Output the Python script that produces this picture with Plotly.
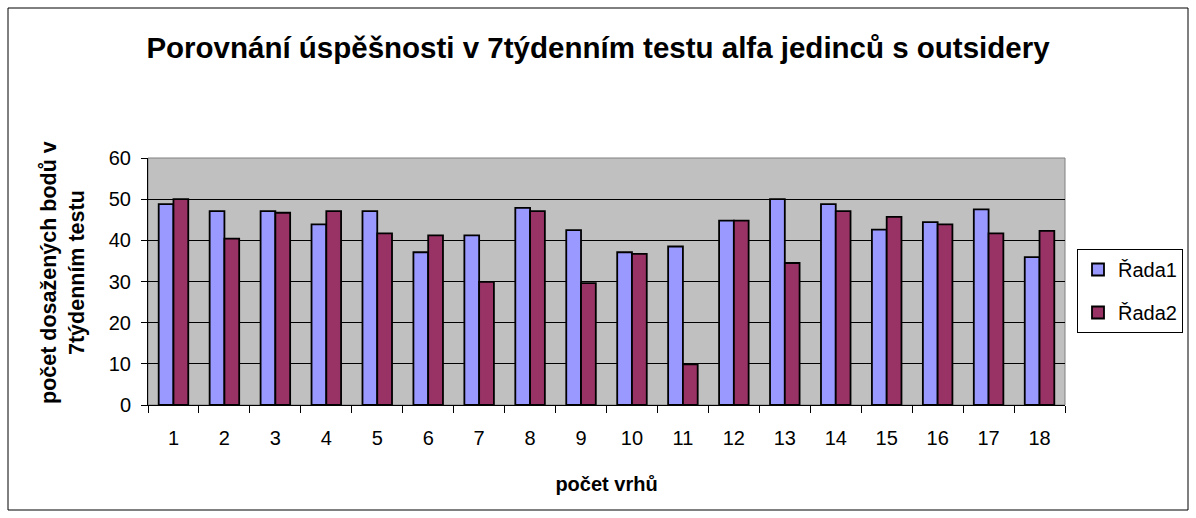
import plotly.graph_objects as go

categories = [str(i) for i in range(1, 19)]
rada1 = [48.8, 47.1, 47.1, 43.9, 47.1, 37.1, 41.2, 47.9, 42.5, 37.1, 38.5, 44.8, 50.0, 48.8, 42.6, 44.4, 47.5, 35.9]
rada2 = [50.0, 40.4, 46.7, 47.1, 41.7, 41.2, 29.9, 47.1, 29.6, 36.7, 9.9, 44.8, 34.5, 47.1, 45.7, 43.9, 41.7, 42.3]
series_names = ["Řada1", "Řada2"]

FONT = "Arial, Liberation Sans, sans-serif"

fig = go.Figure()
fig.add_trace(go.Bar(x=categories, y=rada1, name=series_names[0], legendgroup="a",
                     marker=dict(color="#9999FF", line=dict(color="black", width=1.8))))
fig.add_trace(go.Bar(x=categories, y=rada2, name=series_names[1], legendgroup="b",
                     marker=dict(color="#993366", line=dict(color="black", width=1.8))))

L, R, T, B = 148, 1196 - 1065, 158, 518 - 405
W, H = 1196, 518
pw, ph = W - L - R, H - T - B

fig.update_layout(
    template="none",
    width=W, height=H,
    margin=dict(l=L, r=R, t=T, b=B, autoexpand=False),
    paper_bgcolor="white",
    plot_bgcolor="#C0C0C0",
    barmode="group",
    bargap=0.42,
    bargroupgap=0,
    font=dict(family=FONT, size=20, color="black"),
    title=dict(text="<b>Porovnání úspěšnosti v 7týdenním testu alfa jedinců s outsidery</b>",
               x=598 / W, xanchor="center", y=1 - 48 / H, yanchor="middle",
               font=dict(size=29.5, family=FONT)),
    legend=dict(x=(1077 - L) / pw, xanchor="left", y=(405 - 291) / ph, yanchor="middle",
                bordercolor="black", borderwidth=1, bgcolor="white",
                font=dict(size=20), traceorder="grouped", tracegroupgap=14),
    xaxis=dict(type="category", tickson="boundaries", ticks="outside", ticklen=7,
               tickcolor="black", showline=True, linecolor="black", linewidth=1,
               showgrid=False, tickfont=dict(size=20), automargin=False,
               ticklabelstandoff=15,
               title=dict(text="<b>počet vrhů</b>", font=dict(size=20), standoff=28)),
    yaxis=dict(range=[0, 60], dtick=10, ticks="outside", ticklen=6, tickcolor="black",
               showline=True, linecolor="black", linewidth=1,
               showgrid=True, gridcolor="black", gridwidth=1, zeroline=False,
               tickfont=dict(size=20), automargin=False, ticklabelstandoff=6),
    showlegend=True,
)

# y-axis title as a rotated annotation
fig.add_annotation(text="<b>počet dosažených bodů v<br>7týdenním testu</b>",
                   xref="paper", yref="paper", x=(63 - L) / pw, y=(405 - 273) / ph,
                   xanchor="center", yanchor="middle", textangle=-90, showarrow=False,
                   font=dict(size=21.5, family=FONT))

# outer chart border
fig.add_shape(type="rect", xref="paper", yref="paper",
              x0=(8 - L) / pw, x1=(1188 - L) / pw,
              y0=(405 - 510) / ph, y1=(405 - 8) / ph,
              line=dict(color="black", width=1), fillcolor="rgba(0,0,0,0)", layer="below")
# border of plot area (gray)
fig.add_shape(type="rect", xref="paper", yref="paper", x0=0, x1=1, y0=0, y1=1,
              line=dict(color="#808080", width=1), layer="below")

fig.write_html("out.html", config={"displayModeBar": False},
               post_script="document.body.style.margin='0';document.body.style.overflow='hidden';")
